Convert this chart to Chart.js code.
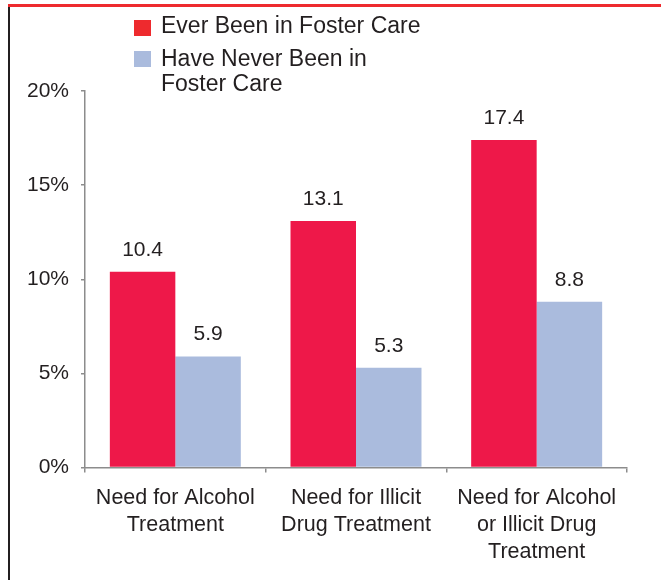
<!DOCTYPE html>
<html>
<head>
<meta charset="utf-8">
<script src="https://cdn.jsdelivr.net/npm/chart.js@4.4.1/dist/chart.umd.min.js"></script>
<style>
  html, body { margin: 0; padding: 0; background: #fff; }
  #wrap { position: relative; width: 661px; height: 580px; overflow: hidden; }
  #chart { position: absolute; left: 0; top: 0; }
  /* marco del documento original: línea roja arriba, negra a la izquierda */
  .frame-top  { position: absolute; left: 8px; top: 4px; right: 0; height: 3px; background: #EE2A2E; }
  .frame-left { position: absolute; left: 8px; top: 7px; bottom: 0; width: 2px; background: #231F20; }
</style>
</head>
<body>
<div id="wrap">
  <canvas id="chart" width="661" height="580"></canvas>
  <div class="frame-top"></div>
  <div class="frame-left"></div>
</div>
<script>
'use strict';

// ── Datos ──────────────────────────────────────────────────────────────
const categories = [
  ['Need for Alcohol', 'Treatment'],
  ['Need for Illicit', 'Drug Treatment'],
  ['Need for Alcohol', 'or Illicit Drug', 'Treatment'],
];
const everFoster  = [10.4, 13.1, 17.4];
const neverFoster = [5.9, 5.3, 8.8];
const seriesNames = ['Ever Been in Foster Care', 'Have Never Been in Foster Care'];
const legendLines = [
  ['Ever Been in Foster Care'],
  ['Have Never Been in', 'Foster Care'],
];
const yTicks = [0, 5, 10, 15, 20];

// ── Tema ───────────────────────────────────────────────────────────────
const C = {
  red:       '#EE1849',
  legendRed: '#EE2A2E',
  blue:      '#AABBDD',
  text:      '#231F20',
  axis:      '#8C8C8C',
};
const FONT = "'Liberation Sans', Arial, Helvetica, sans-serif";

Chart.defaults.font.family = FONT;
Chart.defaults.color = C.text;

// ── Leyenda dibujada a mano (texto en dos líneas) ──────────────────────
const legendPlugin = {
  id: 'manualLegend',
  afterDraw(chart) {
    const ctx = chart.ctx;
    const boxes = [
      { color: C.legendRed, y: 20, lines: [27] },
      { color: C.blue,      y: 51, lines: [60, 85] },
    ];
    ctx.save();
    ctx.font = `23px ${FONT}`;
    ctx.textAlign = 'left';
    ctx.textBaseline = 'middle';
    boxes.forEach((b, i) => {
      ctx.fillStyle = b.color;
      ctx.fillRect(134, b.y, 17, 16);
      ctx.fillStyle = C.text;
      legendLines[i].forEach((txt, j) => ctx.fillText(txt, 161, b.lines[j]));
    });
    ctx.restore();
  },
};

// ── Etiquetas de valor sobre las barras ────────────────────────────────
const valueLabels = {
  id: 'valueLabels',
  afterDatasetsDraw(chart) {
    const ctx = chart.ctx;
    ctx.save();
    ctx.font = `21px ${FONT}`;
    ctx.fillStyle = C.text;
    ctx.textAlign = 'center';
    ctx.textBaseline = 'middle';
    chart.data.datasets.forEach((ds, di) => {
      chart.getDatasetMeta(di).data.forEach((bar, i) => {
        ctx.fillText(ds.data[i].toFixed(1), bar.x, bar.y - 22);
      });
    });
    ctx.restore();
  },
};

new Chart(document.getElementById('chart'), {
  type: 'bar',
  data: {
    labels: categories,
    datasets: [
      {
        label: seriesNames[0],
        data: everFoster,
        backgroundColor: C.red,
        categoryPercentage: 0.725,
        barPercentage: 1.0,
      },
      {
        label: seriesNames[1],
        data: neverFoster,
        backgroundColor: C.blue,
        categoryPercentage: 0.725,
        barPercentage: 1.0,
      },
    ],
  },
  options: {
    responsive: false,
    animation: false,
    layout: { padding: { top: 91, right: 34, left: 0, bottom: 0 } },
    plugins: {
      legend:  { display: false },
      tooltip: { enabled: false },
    },
    scales: {
      x: {
        afterFit(scale) { scale.height = 112.5; },
        grid: {
          offset: true,
          drawOnChartArea: false,
          tickLength: 5,
          color: C.axis,
          lineWidth: 1.5,
        },
        border: { color: C.axis, width: 1.5 },
        ticks: {
          color: C.text,
          font: { size: 21.5, lineHeight: '27px' },
          padding: 12,
          maxRotation: 0,
        },
      },
      y: {
        min: 0,
        max: 20,
        afterFit(scale) { scale.width = 85; },
        afterBuildTicks(scale) { scale.ticks = yTicks.map(v => ({ value: v })); },
        grid: {
          drawOnChartArea: false,
          tickLength: 4,
          color: C.axis,
          lineWidth: 1.5,
        },
        border: { color: C.axis, width: 1.5 },
        ticks: {
          color: C.text,
          font: { size: 21 },
          padding: 12,
          callback: v => v + '%',
        },
      },
    },
  },
  plugins: [legendPlugin, valueLabels],
});
</script>
</body>
</html>
